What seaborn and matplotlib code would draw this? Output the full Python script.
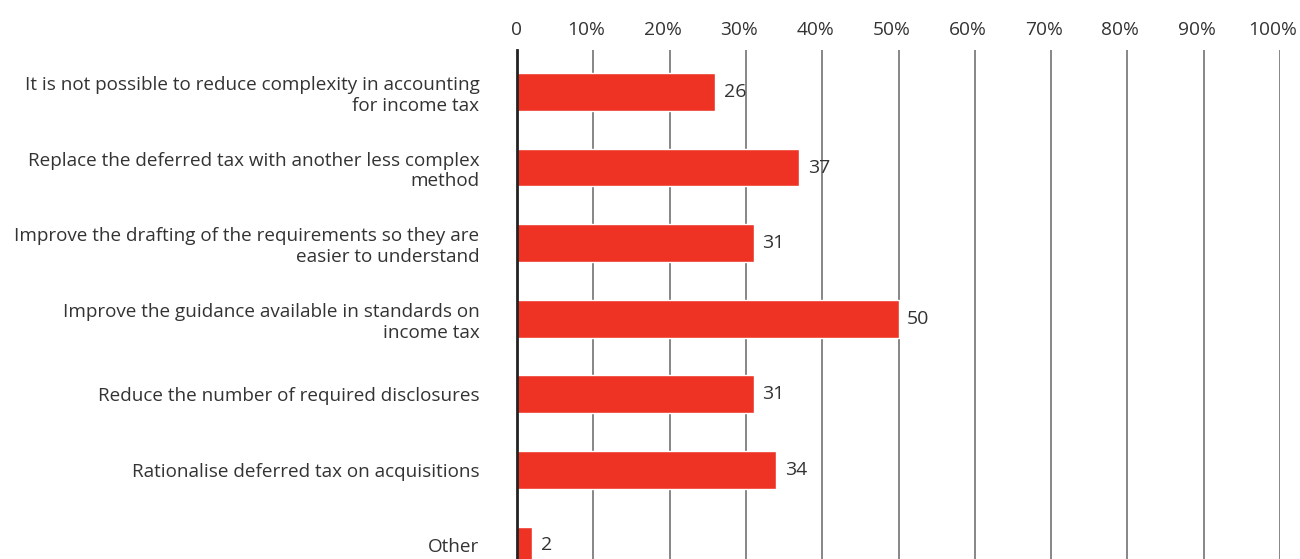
import matplotlib
matplotlib.use("Agg")
import matplotlib.pyplot as plt
import matplotlib.transforms as mtransforms
import seaborn as sns
import pandas as pd

categories = [
    "It is not possible to reduce complexity in accounting\nfor income tax",
    "Replace the deferred tax with another less complex\nmethod",
    "Improve the drafting of the requirements so they are\neasier to understand",
    "Improve the guidance available in standards on\nincome tax",
    "Reduce the number of required disclosures",
    "Rationalise deferred tax on acquisitions",
    "Other",
]
values = [26, 37, 31, 50, 31, 34, 2]
tick_values = [0, 10, 20, 30, 40, 50, 60, 70, 80, 90, 100]
tick_labels = ["0", "10%", "20%", "30%", "40%", "50%", "60%", "70%", "80%", "90%", "100%"]

df = pd.DataFrame({"category": categories, "value": values})

sns.set_theme(style="white")
plt.rcParams["font.family"] = ["Open Sans", "DejaVu Sans"]
text_color = "#333333"
bar_color = "#EE3224"

fig = plt.figure(figsize=(13, 5.59), dpi=100)
ax = fig.add_axes([517 / 1300, 0.0, (1280 - 517) / 1300, 1 - 50 / 559])

sns.barplot(data=df, y="category", x="value", orient="h", color=bar_color,
            width=0.5, saturation=1, ax=ax, zorder=2)

ax.set_xlim(0, 100)
ax.set_ylim(6.18, -0.556)

# vertical gridlines at each tick
for t in tick_values[1:]:
    ax.axvline(t, color="#666666", lw=1.1, zorder=1)

ax.xaxis.tick_top()
ax.set_xticks(tick_values)
ax.set_xticklabels(tick_labels, fontsize=13.8, color=text_color)
ax.tick_params(axis="x", length=0, pad=8)
ax.tick_params(axis="y", length=0, pad=27)

# percentage labels sit slightly left of their gridlines
shift = mtransforms.ScaledTranslation(-7 / 100, 0, fig.dpi_scale_trans)
for lbl in ax.get_xticklabels()[1:]:
    lbl.set_transform(lbl.get_transform() + shift)

for lbl in ax.get_yticklabels():
    lbl.set_fontsize(13.6)
    lbl.set_color(text_color)
    lbl.set_multialignment("right")
    lbl.set_linespacing(1.2)

ax.set_xlabel("")
ax.set_ylabel("")
for side in ["top", "right", "bottom"]:
    ax.spines[side].set_visible(False)
ax.spines["left"].set_color("#222222")
ax.spines["left"].set_linewidth(2)
ax.spines["left"].set_zorder(3)

for i, v in enumerate(values):
    ax.annotate(str(v), xy=(v, i), xytext=(6, 0), textcoords="offset points",
                ha="left", va="center", fontsize=14, color=text_color, zorder=4)

fig.savefig("out.png", dpi=100)
